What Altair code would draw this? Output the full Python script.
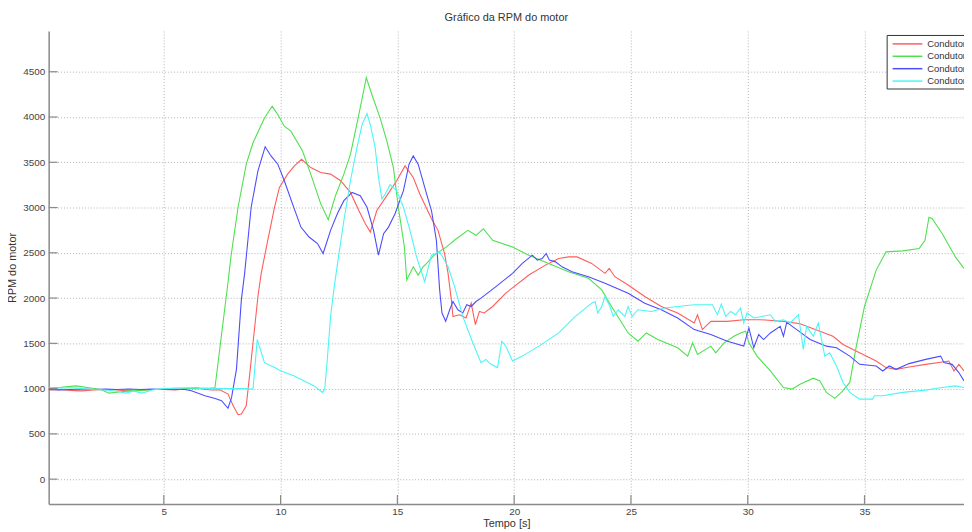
import altair as alt
import pandas as pd

series_names = ["Condutor 1", "Condutor 2", "Condutor 3", "Condutor 4"]
series_colors = ["#ff5c5c", "#4fe04f", "#4c4cff", "#4cf5f5"]

t1 = [0.07, 0.5, 1.0, 1.5, 2.0, 2.5, 3.0, 3.5, 4.0, 4.5, 5.0, 5.5, 6.0, 6.4, 6.8, 7.1, 7.4, 7.75, 7.97, 8.18,
      8.32, 8.53, 8.67, 8.82, 9.03, 9.17, 9.45, 9.74, 9.95, 10.3, 10.59, 10.9, 11.29, 11.72, 12.14, 12.57, 12.99,
      13.35, 13.63, 13.84, 14.12, 14.55, 14.97, 15.33, 15.68, 15.96, 16.46, 16.74, 17.02, 17.17, 17.31, 17.38,
      17.66, 17.94, 18.16, 18.34, 18.51, 18.72, 19.08, 19.64, 20.63, 21.34, 21.91, 22.33, 22.69, 23.32, 23.89,
      24.07, 24.31, 24.88, 25.59, 26.3, 27.0, 27.71, 27.85, 28.06, 28.42, 29.13, 29.83, 30.54, 31.53, 32.24,
      32.52, 33.09, 33.65, 34.08, 34.79, 35.5, 35.92, 36.35, 36.91, 37.62, 38.33, 38.61, 38.83, 39.04, 39.26]
v1 = [985, 990, 980, 975, 985, 990, 985, 975, 980, 990, 990, 985, 1000, 1010, 990, 985, 988, 939, 811, 712,
      720, 811, 1140, 1506, 2017, 2273, 2638, 3003, 3222, 3369, 3460, 3533, 3441, 3387, 3369, 3296, 3167,
      2967, 2821, 2729, 2967, 3131, 3296, 3460, 3332, 3150, 2876, 2748, 2492, 2273, 1980, 1797,
      1816, 1780, 1944, 1706, 1852, 1835, 1907, 2054, 2255, 2364, 2437, 2455, 2455, 2383, 2273,
      2328, 2236, 2145, 2017, 1907, 1835, 1725, 1816, 1652, 1743, 1743, 1761, 1761, 1743, 1717,
      1688, 1633, 1578, 1487, 1396, 1304, 1232, 1213, 1239, 1268, 1293, 1304, 1195, 1268, 1195]

t2 = [0.07, 0.6, 1.25, 1.8, 2.3, 2.66, 3.0, 3.5, 4.0, 4.5, 5.0, 5.5, 6.0, 6.5, 7.0, 7.19, 7.76, 7.87, 8.18,
      8.53, 8.82, 9.31, 9.64, 9.88, 10.16, 10.44, 10.94, 11.29, 11.72, 12.04, 12.35, 12.71, 12.99, 13.35, 13.67,
      13.91, 14.26, 14.55, 14.83, 15.04, 15.3, 15.4, 15.68, 15.89, 16.1, 16.25, 16.6, 17.1, 17.5, 18.02, 18.37,
      18.68, 19.08, 19.93, 20.63, 21.63, 22.33, 23.18, 23.75, 24.17, 24.88, 25.3, 25.66, 26.15, 27.0, 27.43,
      27.64, 27.85, 28.42, 28.63, 28.99, 29.41, 29.69, 29.91, 30.05, 30.4, 30.97, 31.53, 31.89, 32.24, 32.81,
      33.09, 33.37, 33.73, 34.01, 34.37, 34.65, 35.0, 35.5, 35.92, 36.63, 37.34, 37.59, 37.76, 37.9, 38.33,
      38.89, 39.26]
v2 = [1010, 1015, 1030, 1010, 990, 950, 960, 975, 980, 990, 995, 990, 1000, 1000, 1005, 1010, 2197, 2450, 3003,
      3479, 3716, 3990, 4118, 4027, 3898, 3844, 3625, 3369, 3040, 2865, 3131, 3369, 3588, 4027, 4435,
      4246, 3990, 3734, 3441, 3003, 2565, 2200, 2345, 2254, 2345, 2383, 2480, 2565, 2650, 2748, 2693,
      2766, 2638, 2565, 2474, 2364, 2291, 2218, 2090, 1907, 1615, 1523, 1615, 1542, 1451, 1359,
      1506, 1378, 1469, 1396, 1506, 1578, 1615, 1633, 1506, 1359, 1195, 1012, 994, 1049, 1115,
      1085, 958, 892, 958, 1068, 1469, 1907, 2309, 2510, 2521, 2547, 2638, 2893, 2876, 2711,
      2455, 2328]

t3 = [0.07, 0.5, 1.0, 1.5, 2.0, 2.5, 3.0, 3.5, 4.0, 4.5, 5.0, 5.5, 5.9, 6.18, 6.76, 7.2, 7.47, 7.75, 7.9, 8.11,
      8.32, 8.46, 8.74, 9.03, 9.34, 9.59, 9.88, 10.16, 10.51, 10.87, 11.22, 11.58, 11.82, 12.14, 12.43, 12.71,
      13.06, 13.41, 13.7, 13.98, 14.19, 14.41, 14.62, 14.9, 15.26, 15.5, 15.68, 15.89, 16.25, 16.46, 16.67,
      16.81, 16.91, 17.07, 17.24, 17.38, 17.59, 17.8, 17.97, 18.16, 18.37, 18.58, 19.22, 19.93, 20.35, 20.78,
      20.99, 21.2, 21.37, 21.51, 21.77, 22.05, 22.48, 23.18, 23.89, 24.88, 25.59, 26.3, 27.0, 27.71, 28.42,
      29.13, 29.83, 30.05, 30.26, 30.47, 30.68, 30.97, 31.39, 31.53, 31.67, 32.1, 32.67, 33.37, 33.8, 34.37,
      34.79, 35.5, 35.78, 36.06, 36.35, 36.91, 37.62, 38.26, 38.4, 38.75, 39.04, 39.26]
v3 = [990, 985, 990, 995, 990, 995, 990, 995, 990, 995, 990, 995, 990, 976, 921, 890, 866, 783, 900, 1213,
      1980, 2273, 3003, 3405, 3672, 3570, 3479, 3296, 3040, 2784, 2674, 2602, 2492, 2748, 2931, 3076,
      3167, 3131, 3003, 2748, 2474, 2711, 2784, 2931, 3186, 3479, 3570, 3479, 3150, 2967, 2638,
      2090, 1835, 1743, 1871, 1962, 1871, 1835, 1926, 1907, 1962, 1999, 2126, 2273, 2383, 2474,
      2419, 2437, 2492, 2419, 2400, 2345, 2291, 2236, 2164, 2054, 1944, 1871, 1780, 1652, 1597,
      1523, 1469, 1670, 1451, 1597, 1542, 1615, 1688, 1578, 1732, 1652, 1542, 1469, 1451, 1359,
      1268, 1250, 1195, 1250, 1213, 1276, 1323, 1359, 1287, 1268, 1177, 1085]

t4 = [0.07, 0.5, 1.0, 1.5, 2.0, 2.5, 3.0, 3.38, 3.7, 4.07, 4.5, 5.0, 5.5, 6.0, 6.5, 7.0, 7.5, 8.0, 8.5, 8.82,
      9.0, 9.31, 9.74, 10.02, 10.59, 11.01, 11.44, 11.79, 11.89, 12.0, 12.14, 12.28, 12.42, 12.71, 12.99, 13.27,
      13.49, 13.7, 13.84, 14.05, 14.19, 14.34, 14.48, 14.69, 14.97, 15.26, 15.54, 15.82, 16.17, 16.46, 16.81,
      17.17, 17.45, 17.8, 18.23, 18.58, 18.79, 19.01, 19.29, 19.47, 19.64, 19.93, 20.35, 21.06, 21.91, 22.62,
      23.32, 23.47, 23.58, 23.75, 23.89, 24.1, 24.24, 24.46, 24.74, 24.88, 25.05, 25.3, 25.87, 26.44, 27.29,
      27.71, 28.49, 28.7, 28.87, 29.06, 29.27, 29.48, 29.69, 29.83, 29.97, 30.26, 30.61, 30.97, 31.18, 31.53,
      31.82, 32.17, 32.38, 32.52, 32.81, 33.02, 33.3, 33.51, 33.8, 34.08, 34.37, 34.79, 35.35, 35.43, 35.78,
      36.63, 37.62, 38.33, 38.89, 39.26]
v4 = [1010, 1005, 1010, 1000, 990, 985, 970, 950, 975, 950, 985, 1000, 1005, 1010, 1005, 1000, 1000, 1000, 1000, 995,
      1542, 1287, 1232, 1195, 1140, 1085, 1030, 958, 994, 1323, 1797, 2090, 2350, 2857, 3296, 3661,
      3917, 4038, 3917, 3661, 3332, 3095, 3150, 3252, 3186, 3003, 2748, 2455, 2181, 2474, 2510,
      2345, 2126, 1797, 1506, 1287, 1323, 1268, 1232, 1523, 1469, 1304, 1359, 1469, 1615, 1797,
      1944, 1962, 1835, 1907, 2017, 1907, 1797, 1871, 1797, 1907, 1797, 1871, 1852, 1890, 1915,
      1926, 1926, 1816, 1933, 1797, 1852, 1816, 1890, 1725, 1835, 1780, 1797, 1816, 1743, 1761,
      1725, 1816, 1432, 1688, 1578, 1725, 1359, 1396, 1250, 1068, 958, 884, 884, 921, 921,
      958, 983, 1013, 1030, 1013]

x_ticks = [5, 10, 15, 20, 25, 30, 35]
y_ticks = [0, 500, 1000, 1500, 2000, 2500, 3000, 3500, 4000, 4500]
x_domain = [0.07, 39.26]
y_domain = [-275, 4950]

W, H = 923, 477
FONT = "Liberation Sans"
AXIS_GRAY = "#8a8a8a"

rows = []
for name, ts, vs in zip(series_names, [t1, t2, t3, t4], [v1, v2, v3, v4]):
    for t, v in zip(ts, vs):
        rows.append({"t": t, "rpm": v, "serie": name})
df = pd.DataFrame(rows)

xs = alt.Scale(domain=x_domain, nice=False, zero=False)
ys = alt.Scale(domain=y_domain, nice=False, zero=False)

x_axis = alt.Axis(
    values=x_ticks, format="d", title="Tempo [s]", grid=True, gridDash=[1, 2], gridColor="#b3b3b3",
    tickSize=0, labelPadding=3, labelFontSize=10, labelFont=FONT, labelColor="#444",
    domainColor=AXIS_GRAY, domainWidth=1.5, titleFont=FONT, titleFontSize=11,
    titleFontWeight="normal", titleColor="#333", titlePadding=1)
y_axis = alt.Axis(
    values=y_ticks, format="d", title="RPM do motor", grid=True, gridDash=[1, 2], gridColor="#b3b3b3",
    tickSize=0, labelPadding=4, labelFontSize=10, labelFont=FONT, labelColor="#444",
    domainColor=AXIS_GRAY, domainWidth=1.5, titleFont=FONT, titleFontSize=11,
    titleFontWeight="normal", titleColor="#333", titlePadding=5)

lines = alt.Chart(df).mark_line(strokeWidth=1.1, clip=True).encode(
    x=alt.X("t:Q", scale=xs, axis=x_axis),
    y=alt.Y("rpm:Q", scale=ys, axis=y_axis),
    color=alt.Color("serie:N", scale=alt.Scale(domain=series_names, range=series_colors),
                    legend=alt.Legend(
                        title=None, orient="none", legendX=845, legendY=4, direction="vertical",
                        symbolType="M-3,0H3", symbolSize=100, symbolStrokeWidth=1.5,
                        symbolOffset=12, labelOffset=14,
                        labelFont=FONT, labelFontSize=9.5, labelColor="#333",
                        strokeColor="#333", fillColor="white", padding=3, rowPadding=1.5)),
    detail="serie:N",
)

xt = alt.Chart(alt.Data(values=[{"t": v} for v in x_ticks])).mark_rule(
    color=AXIS_GRAY, strokeWidth=1.2).encode(
    x=alt.X("t:Q", scale=xs, axis=x_axis), y=alt.value(H), y2=alt.value(H - 9))

yt = alt.Chart(alt.Data(values=[{"rpm": v} for v in y_ticks])).mark_rule(
    color=AXIS_GRAY, strokeWidth=1.2).encode(
    y=alt.Y("rpm:Q", scale=ys, axis=y_axis), x=alt.value(0), x2=alt.value(9))

chart = alt.layer(lines, xt, yt).properties(
    width=W, height=H,
    title=alt.TitleParams("Gráfico da RPM do motor", font=FONT, fontSize=11, fontWeight="normal",
                          color="#333", anchor="middle", offset=8),
    autosize=alt.AutoSizeParams(type="none"),
    padding={"left": 41, "top": 21, "right": 0, "bottom": 25},
    background="white",
).configure_view(stroke=None)

chart.save("out.html", embed_options={"renderer": "svg", "actions": False})
